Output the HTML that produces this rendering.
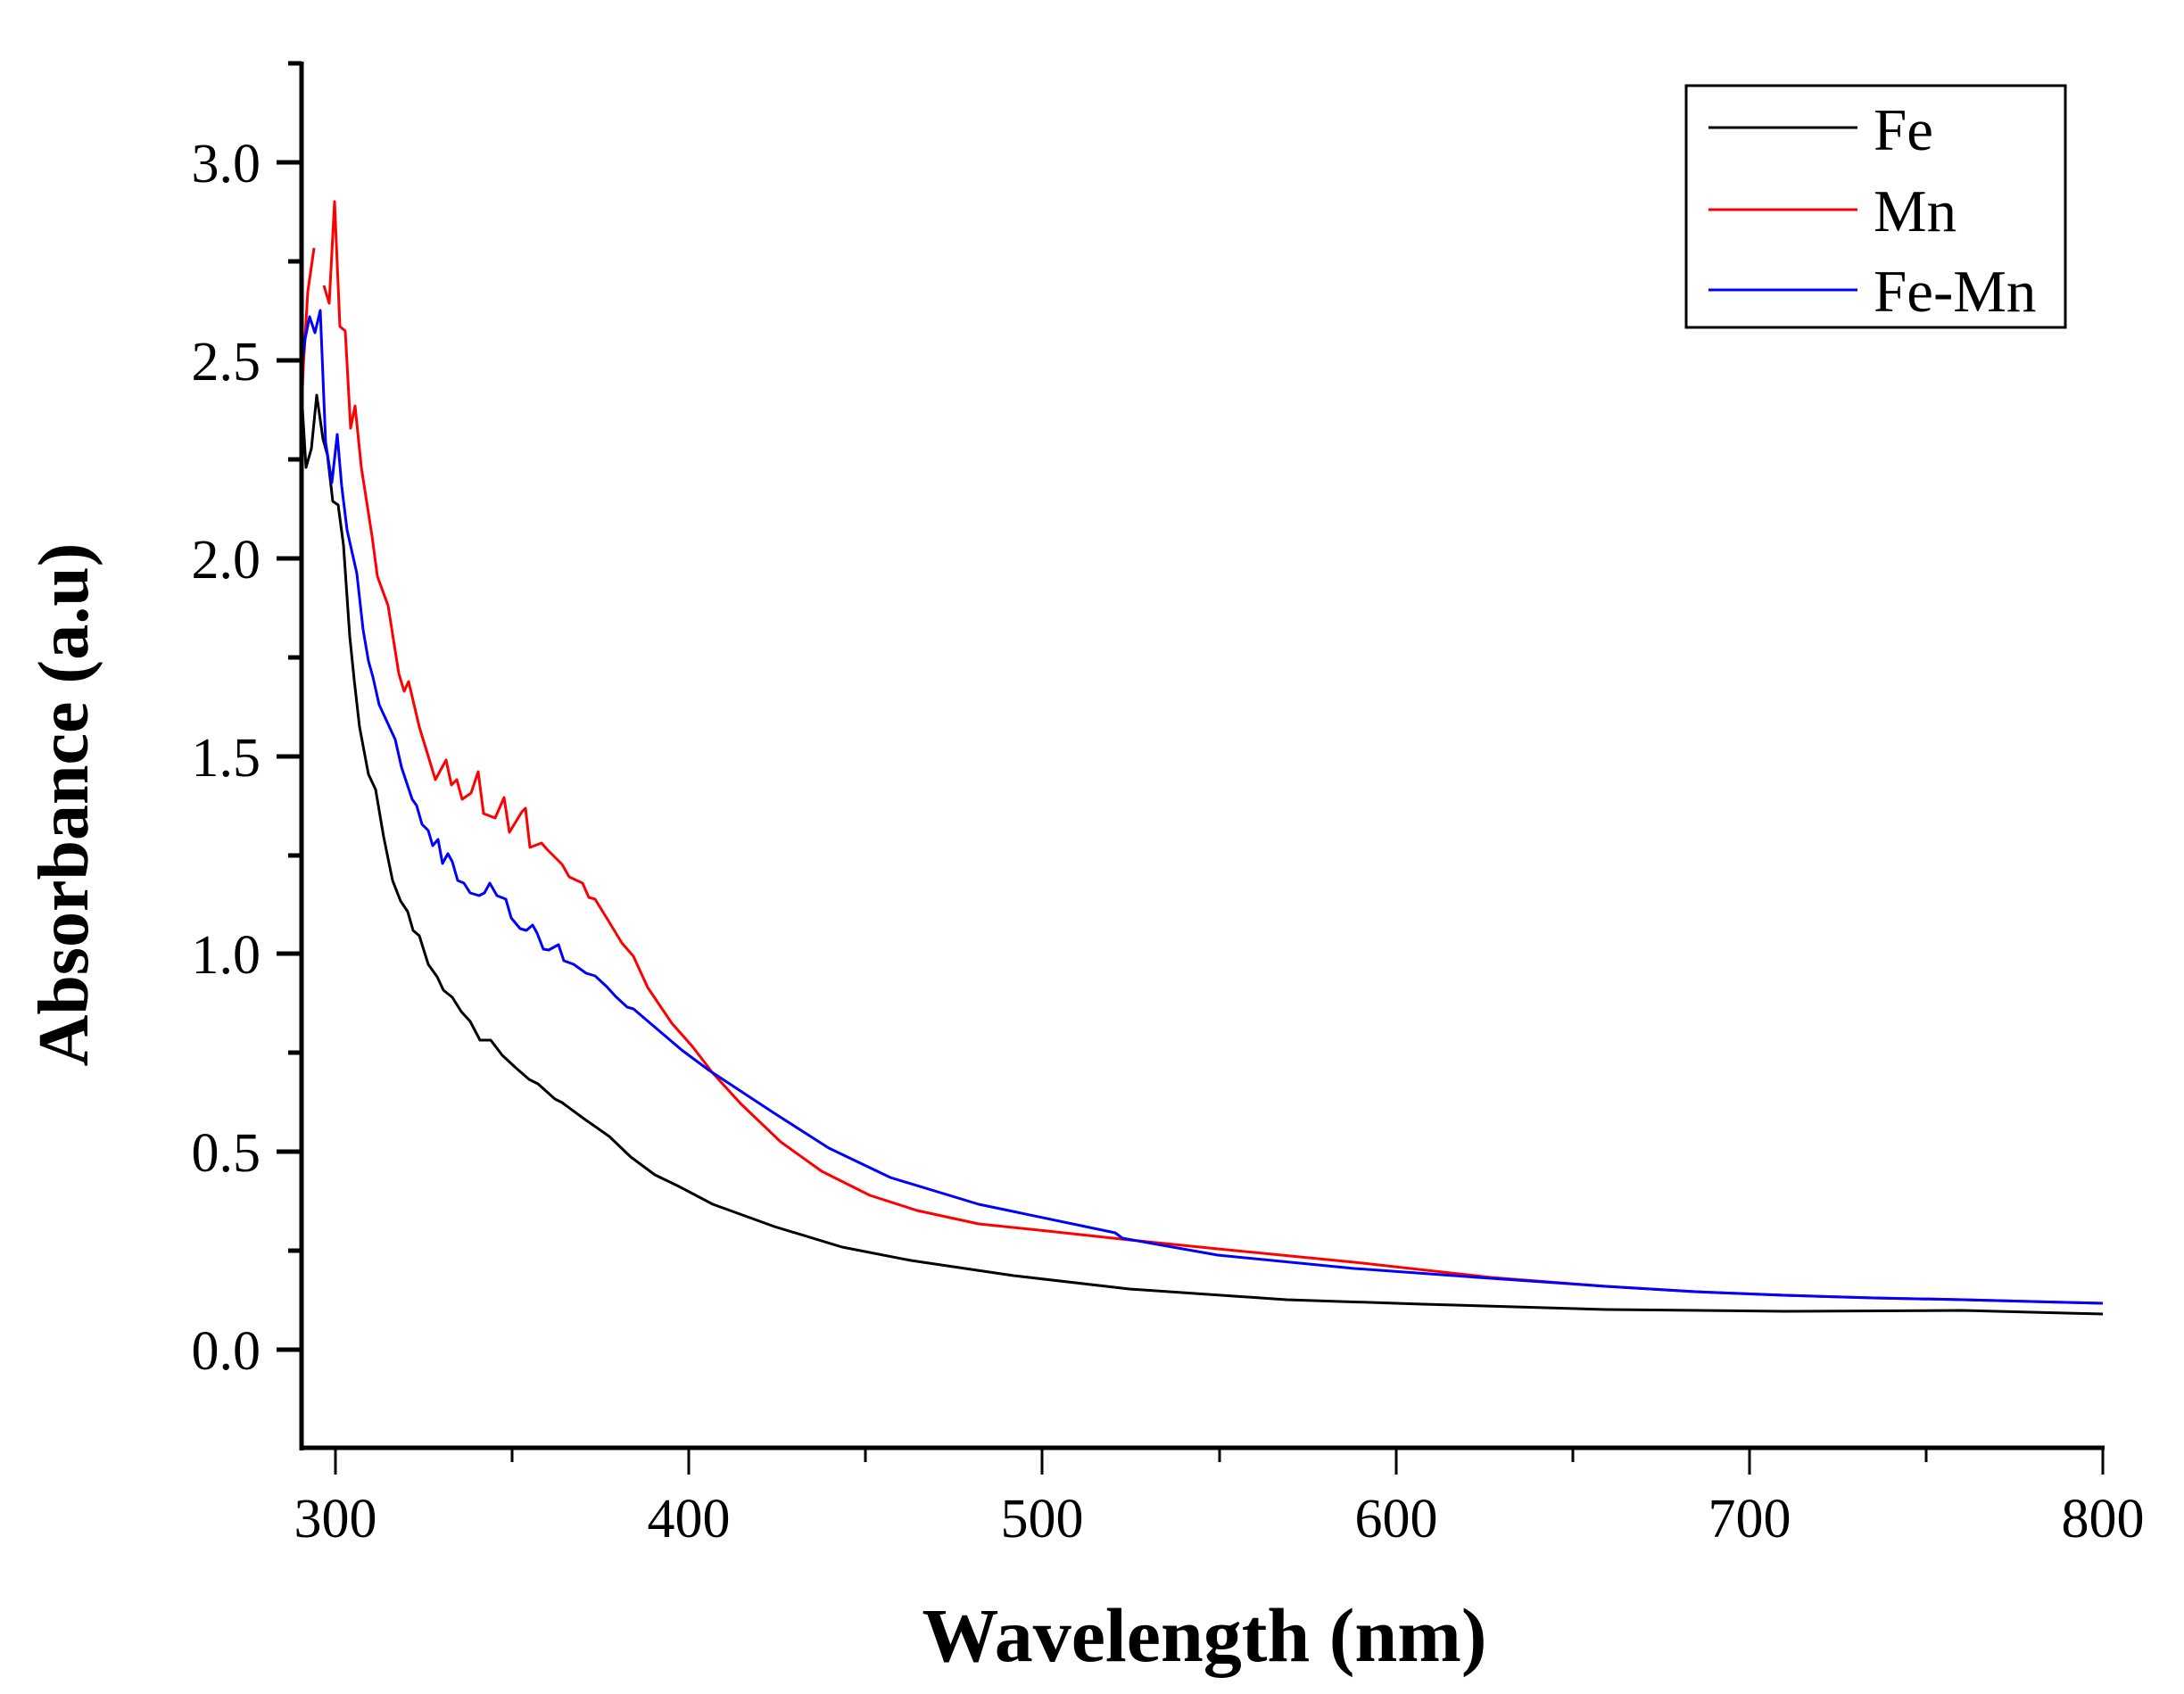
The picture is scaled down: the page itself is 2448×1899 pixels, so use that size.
<!DOCTYPE html>
<html><head><meta charset="utf-8"><style>
html,body{margin:0;padding:0;background:#fff;}
svg{display:block;}
</style></head><body>
<svg width="2448" height="1899" viewBox="0 0 2448 1899" xmlns="http://www.w3.org/2000/svg">
<defs><clipPath id="c"><rect x="338" y="71" width="2022" height="1552"/></clipPath></defs>
<g clip-path="url(#c)" fill="none" stroke-width="3" stroke-linejoin="round">
<polyline stroke="#000" points="337,426 343,524 349,503 355,443 362,492 367,510 373,562 379,566 385,611 392,713 397,762 403,815 413,868 421,885 430,938 440,987 449,1010 457,1022 463,1043 470,1049 480,1081 490,1095 497,1110 507,1118 517,1134 527,1145 538,1166 550,1166 563,1183 577,1196 593,1210 603,1215 622,1232 630,1236 653,1253 663,1260 683,1274 707,1297 734,1317 761,1330 799,1350 868,1375 944,1398 1021,1413 1136,1430 1266,1445 1442,1457 1595,1462 1800,1468 2000,1470 2200,1469 2357,1473"/>
<polyline stroke="#f00" points="337,485 340,411 345,327 352,278"/>
<polyline stroke="#f00" points="363,320 369,340 375,226 381,366 387,371 393,480 398,455 405,524 417,601 423,646 435,679 447,755 453,775 458,764 470,815 488,874 500,852 506,880 512,874 518,896 528,889 536,865 542,912 555,917 565,894 571,933 585,910 589,906 594,950 607,945 613,952 630,969 638,983 653,990 660,1006 667,1008 680,1029 697,1057 710,1072 726,1107 753,1147 776,1173 799,1203 830,1237 875,1280 921,1313 975,1340 1028,1357 1097,1372 1174,1380 1266,1390 1365,1400 1518,1415 1671,1432 1800,1442 1900,1448 2000,1452 2100,1455 2200,1457 2357,1461"/>
<polyline stroke="#00f" points="337,422 342,380 347,355 353,373 359,348 363,447 365,496 372,541 378,487 383,545 389,594 400,643 407,706 413,741 418,759 425,790 443,829 450,860 462,896 467,903 473,924 480,931 485,948 491,941 496,968 502,957 507,966 513,987 520,990 527,1001 537,1004 543,1001 549,990 557,1004 567,1008 573,1029 583,1041 590,1043 597,1037 602,1046 609,1064 615,1065 626,1059 632,1077 643,1081 657,1091 667,1094 680,1106 690,1117 703,1129 710,1131 730,1148 764,1177 795,1200 830,1223 868,1248 929,1287 998,1320 1097,1350 1250,1382 1258,1388 1365,1407 1518,1422 1671,1433 1800,1442 1900,1448 2000,1452 2100,1455 2200,1457 2357,1461"/>
</g>
<g stroke="#000" stroke-width="5" fill="none">
<line x1="338" y1="69" x2="338" y2="1626"/>
<line x1="336" y1="1623" x2="2359" y2="1623"/>
<line x1="310" y1="182" x2="338" y2="182"/>
<line x1="310" y1="404" x2="338" y2="404"/>
<line x1="310" y1="626" x2="338" y2="626"/>
<line x1="310" y1="848" x2="338" y2="848"/>
<line x1="310" y1="1069" x2="338" y2="1069"/>
<line x1="310" y1="1291" x2="338" y2="1291"/>
<line x1="310" y1="1513" x2="338" y2="1513"/>
<line x1="323" y1="71" x2="338" y2="71"/>
<line x1="323" y1="293" x2="338" y2="293"/>
<line x1="323" y1="515" x2="338" y2="515"/>
<line x1="323" y1="737" x2="338" y2="737"/>
<line x1="323" y1="959" x2="338" y2="959"/>
<line x1="323" y1="1180" x2="338" y2="1180"/>
<line x1="323" y1="1402" x2="338" y2="1402"/>
</g>
<g stroke="#000" stroke-width="3">
<line x1="376" y1="1623" x2="376" y2="1653"/>
<line x1="772" y1="1623" x2="772" y2="1653"/>
<line x1="1168" y1="1623" x2="1168" y2="1653"/>
<line x1="1565" y1="1623" x2="1565" y2="1653"/>
<line x1="1961" y1="1623" x2="1961" y2="1653"/>
<line x1="2357" y1="1623" x2="2357" y2="1653"/>
<line x1="574" y1="1623" x2="574" y2="1639"/>
<line x1="970" y1="1623" x2="970" y2="1639"/>
<line x1="1367" y1="1623" x2="1367" y2="1639"/>
<line x1="1763" y1="1623" x2="1763" y2="1639"/>
<line x1="2159" y1="1623" x2="2159" y2="1639"/>
</g>
<g font-family="Liberation Serif, serif" font-size="62" fill="#000">
<g text-anchor="end">
<text x="292" y="204">3.0</text>
<text x="292" y="426">2.5</text>
<text x="292" y="648">2.0</text>
<text x="292" y="870">1.5</text>
<text x="292" y="1091">1.0</text>
<text x="292" y="1313">0.5</text>
<text x="292" y="1535">0.0</text>
</g>
<g text-anchor="middle">
<text x="376" y="1723">300</text>
<text x="772" y="1723">400</text>
<text x="1168" y="1723">500</text>
<text x="1565" y="1723">600</text>
<text x="1961" y="1723">700</text>
<text x="2357" y="1723">800</text>
</g>
</g>
<text x="1350" y="1862" text-anchor="middle" font-family="Liberation Serif, serif" font-weight="bold" font-size="86">Wavelength (nm)</text>
<text transform="translate(98,902) rotate(-90)" text-anchor="middle" font-family="Liberation Serif, serif" font-weight="bold" font-size="80">Absorbance (a.u)</text>
<rect x="1890" y="96" width="425" height="271" fill="none" stroke="#000" stroke-width="3"/>
<line x1="1915" y1="143" x2="2082" y2="143" stroke="#000" stroke-width="3"/>
<line x1="1915" y1="235" x2="2082" y2="235" stroke="#f00" stroke-width="3"/>
<line x1="1915" y1="325" x2="2082" y2="325" stroke="#00f" stroke-width="3"/>
<g font-family="Liberation Serif, serif" font-size="67" fill="#000">
<text x="2100" y="168">Fe</text>
<text x="2100" y="259">Mn</text>
<text x="2100" y="349">Fe-Mn</text>
</g>
</svg>
</body></html>
